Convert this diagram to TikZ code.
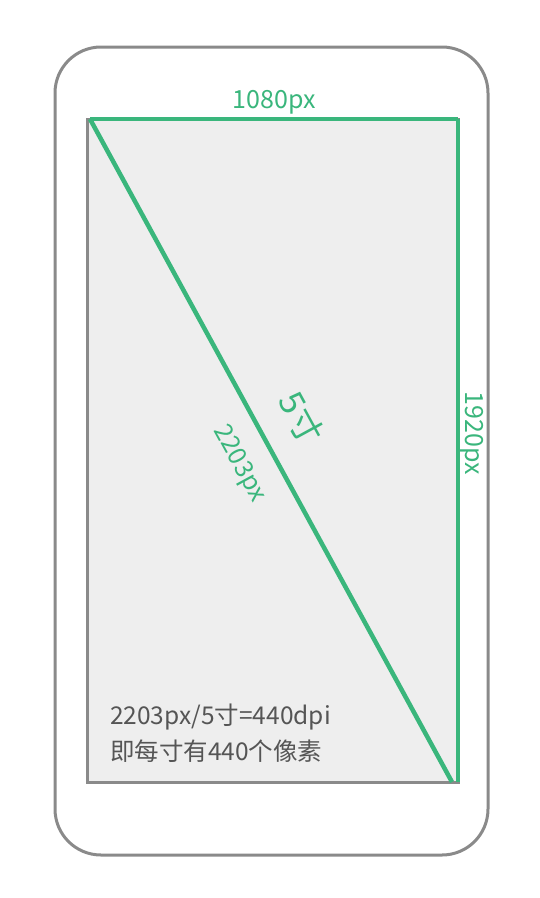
\documentclass[tikz,border=0pt]{standalone}
\usepackage{fontspec}
\setmainfont{Noto Sans CJK SC}
\definecolor{phonegray}{RGB}{138,138,138}
\definecolor{screenfill}{RGB}{238,238,238}
\definecolor{dimgreen}{RGB}{58,182,124}
\definecolor{notegray}{RGB}{85,85,85}
\begin{document}
\begin{tikzpicture}[x=1pt,y=-1pt,
  phone/.style={draw=phonegray,line width=3pt,fill=white,rounded corners=46pt},
  screen/.style={draw=phonegray,line width=3pt,fill=screenfill},
  dim/.style={draw=dimgreen,line width=4.5pt},
  dimlabel/.style={text=dimgreen,font=\fontsize{25}{29}\selectfont,inner sep=0pt},
  note/.style={text=notegray,font=\fontsize{24.5}{29}\selectfont,inner sep=0pt,anchor=base west}]
\useasboundingbox (0,0) rectangle (539,898);
\draw[phone] (55,47) rectangle (488,855);
\draw[screen] (87,119) rectangle (458,782);
\coordinate (TL) at (90,119);
\coordinate (TR) at (458,119);
\coordinate (BR) at (458,782);
\coordinate (DE) at (452,782);
\draw[dim,line cap=butt] (TL) -- (TR);
\draw[dim] (TR) -- (BR);
\draw[dim] (TL) -- (DE);
\node[dimlabel] (w) at (274,102) {1080px};
\node[dimlabel,rotate=-90] (h) at (472,433) {1920px};
\node[dimlabel,rotate=-61.4,font=\fontsize{34}{38}\selectfont] (inch) at (301,418) {5寸};
\node[dimlabel,rotate=-61.4] (diag) at (239,464) {2203px};
\node[note] (n1) at (110,724) {2203px/5寸=440dpi};
\node[note] (n2) at (110,760) {即每寸有440个像素};
\end{tikzpicture}
\end{document}
